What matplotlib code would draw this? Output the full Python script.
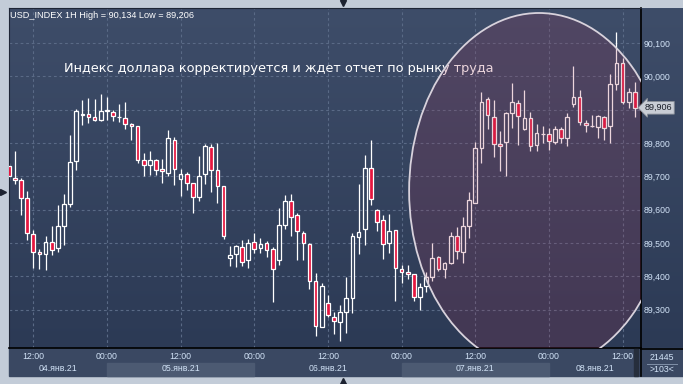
import matplotlib
matplotlib.use("Agg")
import matplotlib.pyplot as plt
import numpy as np
import pandas as pd
from matplotlib.colors import LinearSegmentedColormap
from matplotlib.patches import Ellipse, Rectangle

plt.rcParams['font.family'] = ['Liberation Sans', 'DejaVu Sans']

# hourly USD_INDEX bars, 04.01.2021 08:00 .. 08.01.2021 14:00
times = pd.date_range("2021-01-04 08:00", periods=103, freq="h")

open_ = [89.730, 89.696, 89.688, 89.636, 89.528, 89.474, 89.468, 89.504, 89.486, 89.550,
         89.618, 89.747, 89.885, 89.886, 89.879, 89.868, 89.897, 89.894, 89.878, 89.876,
         89.856, 89.850, 89.750, 89.735, 89.750, 89.721, 89.711, 89.810, 89.692, 89.708,
         89.681, 89.638, 89.707, 89.787, 89.720, 89.670, 89.454, 89.466, 89.487, 89.449,
         89.504, 89.484, 89.499, 89.481, 89.449, 89.553, 89.627, 89.583, 89.531, 89.496,
         89.387, 89.249, 89.321, 89.277, 89.262, 89.292, 89.334, 89.519, 89.541, 89.724,
         89.599, 89.569, 89.499, 89.539, 89.421, 89.412, 89.406, 89.339, 89.372, 89.397,
         89.457, 89.421, 89.439, 89.521, 89.474, 89.551, 89.621, 89.784, 89.931, 89.879,
         89.798, 89.802, 89.889, 89.919, 89.841, 89.874, 89.793, 89.826, 89.828, 89.804,
         89.843, 89.814, 89.917, 89.939, 89.859, 89.851, 89.847, 89.879, 89.851, 89.977,
         90.040, 89.922, 89.954]
high = [89.740, 89.776, 89.696, 89.655, 89.538, 89.483, 89.520, 89.551, 89.613, 89.646,
        89.823, 89.901, 89.930, 89.934, 89.931, 89.946, 89.938, 89.900, 89.916, 89.922,
        89.860, 89.850, 89.770, 89.775, 89.752, 89.751, 89.838, 89.818, 89.723, 89.712,
        89.681, 89.760, 89.796, 89.796, 89.800, 89.670, 89.491, 89.494, 89.509, 89.511,
        89.529, 89.514, 89.505, 89.489, 89.604, 89.643, 89.647, 89.589, 89.536, 89.499,
        89.409, 89.379, 89.344, 89.292, 89.314, 89.397, 89.529, 89.677, 89.764, 89.809,
        89.601, 89.584, 89.587, 89.539, 89.434, 89.434, 89.407, 89.381, 89.414, 89.499,
        89.461, 89.444, 89.534, 89.549, 89.579, 89.654, 89.804, 89.954, 89.937, 89.929,
        89.837, 89.894, 89.981, 89.929, 89.959, 89.894, 89.857, 89.851, 89.844, 89.851,
        89.847, 89.891, 90.032, 89.959, 89.869, 89.884, 89.884, 89.881, 90.009, 90.134,
        90.055, 89.964, 89.984]
low = [89.690, 89.678, 89.584, 89.510, 89.425, 89.422, 89.420, 89.464, 89.472, 89.495,
       89.608, 89.720, 89.854, 89.860, 89.865, 89.865, 89.868, 89.865, 89.863, 89.842,
       89.808, 89.740, 89.700, 89.705, 89.703, 89.680, 89.701, 89.674, 89.641, 89.658,
       89.591, 89.626, 89.676, 89.653, 89.620, 89.512, 89.431, 89.429, 89.432, 89.424,
       89.469, 89.469, 89.459, 89.324, 89.434, 89.541, 89.521, 89.450, 89.449, 89.361,
       89.222, 89.248, 89.277, 89.226, 89.206, 89.231, 89.289, 89.467, 89.494, 89.615,
       89.536, 89.453, 89.471, 89.327, 89.381, 89.392, 89.327, 89.299, 89.354, 89.386,
       89.417, 89.396, 89.437, 89.451, 89.439, 89.514, 89.621, 89.739, 89.841, 89.757,
       89.717, 89.702, 89.844, 89.793, 89.839, 89.777, 89.777, 89.801, 89.779, 89.797,
       89.799, 89.791, 89.909, 89.854, 89.834, 89.849, 89.814, 89.809, 89.801, 89.959,
       89.917, 89.904, 89.877]
close = [89.700, 89.688, 89.636, 89.531, 89.473, 89.468, 89.504, 89.480, 89.550, 89.618,
         89.742, 89.895, 89.886, 89.877, 89.870, 89.895, 89.897, 89.882, 89.878, 89.858,
         89.850, 89.750, 89.735, 89.750, 89.720, 89.715, 89.816, 89.722, 89.708, 89.681,
         89.638, 89.702, 89.790, 89.720, 89.672, 89.522, 89.463, 89.490, 89.443, 89.499,
         89.482, 89.496, 89.478, 89.422, 89.555, 89.627, 89.577, 89.536, 89.499, 89.386,
         89.251, 89.371, 89.283, 89.265, 89.292, 89.334, 89.521, 89.534, 89.724, 89.631,
         89.564, 89.496, 89.535, 89.425, 89.412, 89.406, 89.337, 89.367, 89.397, 89.455,
         89.421, 89.439, 89.521, 89.477, 89.551, 89.629, 89.784, 89.924, 89.883, 89.797,
         89.791, 89.889, 89.922, 89.881, 89.874, 89.791, 89.829, 89.827, 89.806, 89.841,
         89.816, 89.879, 89.939, 89.864, 89.854, 89.852, 89.881, 89.844, 89.977, 90.042,
         89.922, 89.954, 89.906]

price_ticks = [89.3, 89.4, 89.5, 89.6, 89.7, 89.8, 89.9, 90.0, 90.1]
last_price = 89.906
header = "USD_INDEX 1H High = 90,134 Low = 89,206"
title = "Индекс доллара корректируется и ждет отчет по рынку труда"
months = {1: "янв"}

W, H = 683, 384
fig = plt.figure(figsize=(W / 100, H / 100), dpi=100, facecolor='#c3ccd8')

# background panels (pixel coordinates)
bg = fig.add_axes([0, 0, 1, 1])
bg.axis('off')
grad = np.linspace(0, 1, 256).reshape(-1, 1)
cmap = LinearSegmentedColormap.from_list('bg', ['#3e4d69', '#2c3a55'])
bg.imshow(grad, extent=[9, 641, 348, 8], cmap=cmap, aspect='auto')
bg.imshow(grad, extent=[641, 683, 348, 8], cmap=cmap, aspect='auto')
bg.add_patch(Rectangle((9, 348), 674, 28, color='#3a4862'))
bg.set_xlim(0, W)
bg.set_ylim(H, 0)

ax = fig.add_axes([9 / W, 36 / H, 632 / W, 340 / H])
ax.set_facecolor('none')

x = np.arange(len(times))
o = np.array(open_)
c = np.array(close)
hi = np.array(high)
lo = np.array(low)
top = np.maximum(o, c)
bot = np.minimum(o, c)
up = c >= o

ax.vlines(x, top, hi, color='white', lw=0.9, zorder=2)
ax.vlines(x, lo, bot, color='white', lw=0.9, zorder=2)
ax.bar(x[up], np.maximum(top - bot, 0.0012)[up], bottom=bot[up], width=0.6,
       facecolor='none', edgecolor='white', lw=0.9, zorder=3)
ax.bar(x[~up], np.maximum(top - bot, 0.0012)[~up], bottom=bot[~up], width=0.6,
       facecolor='#e5163f', edgecolor='white', lw=0.9, zorder=3)

ax.set_xlim(0.05, 103.0)
ax.set_ylim(89.1847, 90.2057)

# time ticks every 12 hours
tick_idx = [i for i, t in enumerate(times) if t.hour in (0, 12) and t.minute == 0]
ax.set_xticks(tick_idx, [times[i].strftime('%H:%M') for i in tick_idx])
# the 89,900 label sits under the current price marker
ax.set_yticks(price_ticks, ["" if abs(p - last_price) < 0.03 else f"{p:.3f}".replace('.', ',')
                            for p in price_ticks])
ax.yaxis.tick_right()
ax.tick_params(axis='x', length=0, pad=3.2, labelsize=6.3, labelcolor='#d2e3f7')
ax.tick_params(axis='y', length=0, pad=2.2, labelsize=6.3, labelcolor='#d2e3f7')
ax.grid(True, color='#5a6a86', lw=0.8, ls=(0, (2.5, 2.5)))
for s in ['top', 'left']:
    ax.spines[s].set_color('#1e2636')
    ax.spines[s].set_linewidth(0.8)
for s in ['right', 'bottom']:
    ax.spines[s].set_color('black')
    ax.spines[s].set_linewidth(1.2)

# day bands and date labels under the time axis
xt = ax.get_xaxis_transform()
days = sorted(set(t.normalize() for t in times))
for k, d in enumerate(days):
    idx = [i for i, t in enumerate(times) if t.normalize() == d]
    start = max(idx[0], 0.05)
    end = min(idx[-1] + 1, 103.0)
    if k % 2 == 1:
        ax.add_patch(Rectangle((start, -0.0824), end - start, 0.0392, transform=xt,
                               color='#4c5a72', clip_on=False, zorder=0.5))
    label = f"{d.day:02d}.{months[d.month]}.{d.strftime('%y')}"
    ax.text((start + end) / 2, -0.0612, label, transform=xt, ha='center', va='center',
            fontsize=6.3, color='#d2e3f7', clip_on=False)

ax.text(0.087, 0.8126, title, transform=ax.transAxes, ha='left', va='baseline',
        fontsize=9.3, color='white', family=['DejaVu Sans'], zorder=3)

# highlight ellipse
ax.add_patch(Ellipse((0.8386, 0.4618), 0.411, 1.047, transform=ax.transAxes,
                     facecolor='#a03050', alpha=0.2, edgecolor='none', zorder=5))
ax.add_patch(Ellipse((0.8386, 0.4618), 0.411, 1.047, transform=ax.transAxes,
                     fill=False, edgecolor='#d8d2dc', lw=1.3, zorder=6))

# current price marker
ax.text(1.006, last_price, f"{last_price:.3f}".replace('.', ','),
        transform=ax.get_yaxis_transform(), ha='left', va='center', fontsize=6.5,
        color='#1a1e28', clip_on=False, zorder=20,
        bbox=dict(boxstyle='larrow,pad=0.2', fc='#c9cdd5', ec='#8a8f98', lw=0.6))

# frame decorations
ov = fig.add_axes([0, 0, 1, 1])
ov.set_facecolor('none')
ov.axis('off')
ov.set_xlim(0, W)
ov.set_ylim(H, 0)
ov.plot([641, 683], [348.5, 348.5], color='black', lw=1.2)
ov.plot([641, 641], [348, 376], color='black', lw=1.2)
ov.add_patch(Rectangle((634, 349), 4, 27, color='#262e3c'))
ov.plot([647, 677], [363.5, 363.5], color='#8090a8', lw=0.7)
ov.text(662, 357, "21445", ha='center', va='center', fontsize=6.3, color='#d2e3f7')
ov.text(662, 370, ">103<", ha='center', va='center', fontsize=6.3, color='#d2e3f7')
ov.text(10, 18.3, header, ha='left', va='baseline', fontsize=6.6, color='white')
ov.plot(3, 192, marker='>', ms=5, color='#1c2230')
ov.plot(343, 2.5, marker='v', ms=5, color='#1c2230')
ov.plot(343, 381, marker='^', ms=5, color='#1c2230')

fig.savefig('out.png', dpi=100)
